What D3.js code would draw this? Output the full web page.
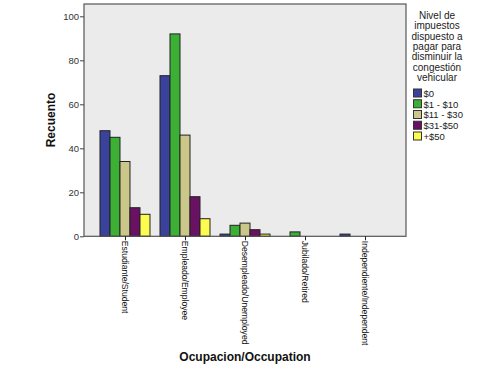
<!DOCTYPE html>
<html><head><meta charset="utf-8">
<script src="https://cdn.jsdelivr.net/npm/d3@7"></script>
<style>body{margin:0;background:#fff}svg{display:block;font-family:"Liberation Sans",Arial,sans-serif}</style>
</head><body><svg id="c" width="499" height="371"></svg>
<script>
const categories = ["Estudiante/Student","Empleado/Employee","Desempleado/Unemployed","Jubilado/Retired","Independiente/Independent"];
const seriesNames = ["$0","$1 - $10","$11 - $30","$31-$50","+$50"];
const s0 = [48, 73, 1, 0, 1];
const s1 = [45, 92, 5, 2, 0];
const s2 = [34, 46, 6, 0, 0];
const s3 = [13, 18, 3, 0, 0];
const s4 = [10, 8, 1, 0, 0];
const seriesValues = [s0, s1, s2, s3, s4];
const colors = ["#3b429b","#3bb035","#cbc68a","#6b1163","#fbfb50"];
const yTicks = [0, 20, 40, 60, 80, 100];
const legendTitle = ["Nivel de","impuestos","dispuesto a","pagar para","disminuir la","congestión","vehicular"];

const svg = d3.select("#c");
const L = 84, R = 406, T = 4, B = 236.3;
const x = d3.scalePoint().domain(categories).range([L, R]).padding(0.683);
const y = d3.scaleLinear().domain([0, 100]).range([B, 16.3]);
const sub = d3.scaleBand().domain(d3.range(seriesNames.length)).range([-25, 25]);

svg.append("rect").attr("x", L).attr("y", T).attr("width", R - L).attr("height", B - T)
  .attr("fill", "#ebebeb");

// bars
seriesValues.forEach((vals, si) => {
  svg.append("g").selectAll("rect").data(vals.map((v, i) => ({v, c: categories[i]})).filter(d => d.v > 0))
    .join("rect")
    .attr("x", d => x(d.c) + sub(si))
    .attr("y", d => y(d.v))
    .attr("width", sub.bandwidth())
    .attr("height", d => B - y(d.v))
    .attr("fill", colors[si])
    .attr("stroke", "#222")
    .attr("stroke-width", 1);
});

svg.append("rect").attr("x", L).attr("y", T).attr("width", R - L).attr("height", B - T)
  .attr("fill", "none").attr("stroke", "#555").attr("stroke-width", 1.2);

// y axis
const ya = svg.append("g").attr("transform", `translate(${L},0)`)
  .call(d3.axisLeft(y).tickValues(yTicks).tickSize(4).tickSizeOuter(0).tickPadding(1));
ya.select(".domain").remove();
ya.selectAll("line").attr("stroke", "#444");
ya.selectAll("text").attr("font-size", 9.5).attr("fill", "#333").attr("font-family", "Liberation Sans, Arial, sans-serif");

// x axis
const xa = svg.append("g").attr("transform", `translate(0,${B})`)
  .call(d3.axisBottom(x).tickSize(4).tickSizeOuter(0).tickPadding(0));
xa.select(".domain").remove();
xa.selectAll("line").attr("stroke", "#222");
xa.selectAll("text")
  .attr("font-size", 8.6).attr("fill", "#111").attr("font-family", "Liberation Sans, Arial, sans-serif")
  .attr("text-anchor", "start").attr("dy", null).attr("y", 0)
  .attr("transform", "translate(-3.2,4.5) rotate(90)");

// axis titles
svg.append("text").attr("transform", "translate(55,120) rotate(-90)")
  .attr("text-anchor", "middle").attr("font-size", 12).attr("font-weight", "bold").attr("fill", "#111")
  .text("Recuento");
svg.append("text").attr("x", 245).attr("y", 361)
  .attr("text-anchor", "middle").attr("font-size", 12).attr("font-weight", "bold").attr("fill", "#111")
  .text("Ocupacion/Occupation");

// legend
const lg = svg.append("g");
lg.selectAll("text.t").data(legendTitle).join("text").attr("class", "t")
  .attr("x", 437).attr("y", (d, i) => 19 + i * 10.35)
  .attr("text-anchor", "middle").attr("font-size", 10).attr("fill", "#222").text(d => d);
const items = lg.selectAll("g.i").data(seriesNames).join("g").attr("class", "i")
  .attr("transform", (d, i) => `translate(413.5,${89 + i * 10.75})`);
items.append("rect").attr("width", 8).attr("height", 8).attr("fill", (d, i) => colors[i])
  .attr("stroke", "#333").attr("stroke-width", 1);
items.append("text").attr("x", 10).attr("y", 7.8).attr("font-size", 9.5).attr("fill", "#222").text(d => d);
</script></body></html>
